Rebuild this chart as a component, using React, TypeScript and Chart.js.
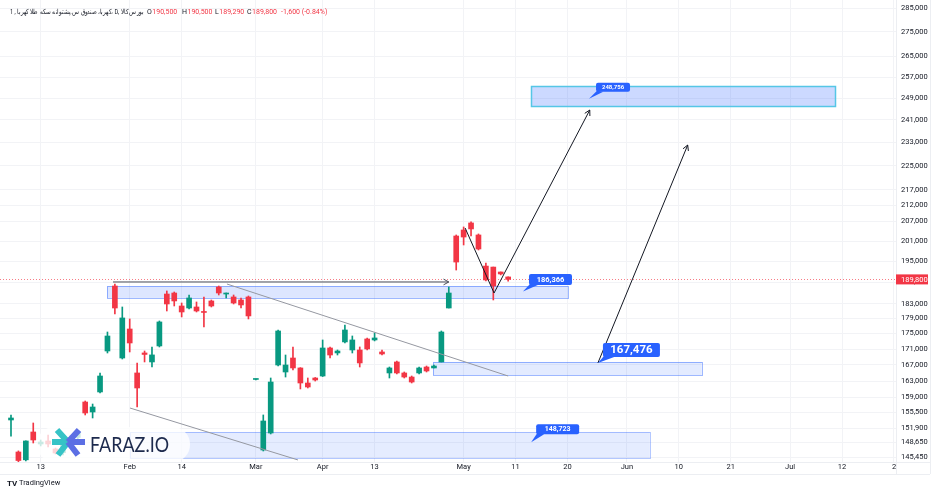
import React, { useEffect, useRef } from 'react';
import { Chart, registerables } from 'chart.js';

Chart.register(...registerables);

// ---- candle data (daily, index = bar number) ----
const opens = [153760, 146560, 144850, 151020, 148330, 149000, 147220, 146400, 148300, 149800,
  157960, 155610, 160350, 170500, 187930, 168720, 176210, 164980, 170000, 167720,
  171790, 185690, 185970, 182390, 181840, 182120, 180900, 183770, 187650, 185690,
  184870, 184040, 184870, 163380, 147000, 150790, 166960, 165220, 168720, 166220,
  162520, 163740, 164230, 171270, 170000, 172830, 170760, 170760, 173600, 173340,
  170250, 164980, 167720, 164980, 163980, 164980, 166460, 166220, 167720, 181840,
  202550, 204380, 206550, 202860, 193630, 193340, 191920, 190500];
const highs = [154900, 146800, 149050, 153070, 149220, 150340, 147440, 148600, 150200, 151200,
  158190, 157480, 164980, 175420, 188500, 182120, 178880, 167470, 170500, 171530,
  178340, 186540, 186250, 183210, 185420, 183490, 184870, 184040, 187930, 185970,
  185420, 184590, 185140, 163500, 154920, 163740, 175950, 169480, 171530, 166300,
  163740, 163860, 173340, 171530, 170760, 177270, 174380, 171530, 173860, 175160,
  170760, 166460, 167970, 165220, 164230, 166460, 166710, 166960, 175690, 187650,
  202860, 205310, 206860, 203170, 194510, 193340, 191920, 190500];
const lows = [150100, 144400, 144600, 148550, 147890, 147660, 146120, 145900, 147600, 149000,
  154920, 154220, 160100, 169990, 180220, 168470, 170250, 156780, 167720, 166460,
  171530, 181030, 182390, 179420, 181600, 180760, 176740, 182120, 185420, 184590,
  182940, 181840, 178880, 163250, 146780, 150570, 166710, 163980, 165720, 161070,
  161310, 163000, 164100, 168720, 169480, 172600, 169990, 166460, 170760, 173090,
  169480, 163740, 164730, 163740, 162520, 164730, 165220, 166220, 167720, 181840,
  192480, 199840, 202550, 198350, 189360, 184040, 191080, 189290];
const closes = [154220, 144700, 149000, 149220, 148770, 148330, 146340, 148300, 149800, 150900,
  155380, 156780, 164230, 174370, 181840, 179150, 172560, 161310, 169620, 169500,
  178080, 182940, 183770, 180760, 184590, 181030, 180630, 182390, 185970, 185970,
  183210, 182670, 179690, 163480, 153530, 162760, 175690, 166960, 166220, 162520,
  161550, 163250, 171270, 169480, 170500, 175950, 173340, 167470, 171020, 173860,
  169740, 166220, 164980, 163980, 162760, 166220, 165470, 166710, 175420, 185970,
  194800, 202240, 204700, 198650, 189640, 187930, 191350, 189800];

// ---- axes ----
const xTickIdx = [4, 16, 23, 33, 42, 49, 61, 68, 75, 83, 90, 97, 105, 112, 119];
const xTickLabels = ['13', 'Feb', '14', 'Mar', 'Apr', '13', 'May', '11', '20', 'Jun', '10', '21', 'Jul', '12', '2'];
const priceTicks = [285000, 275000, 265000, 257000, 249000, 241000, 233000, 225000, 217000, 212000,
  207000, 201000, 195000, 189000, 183000, 179000, 175000, 171000, 167000, 163000, 159000,
  155500, 151900, 148650, 145450];

const lastPrice = 189800;
// title pieces, in the order they appear from left to right
const titleParts = ['1 ,', 'کهربا، صندوق س.پشتوانه سکه طلا کهربا،', 'D,', 'بورس کالا'];
const ohlcKeys = ['O', 'H', 'L', 'C'];
const ohlcVals = ['190,500', '190,500', '189,290', '189,800'];
const changeText = '-1,600 (-0.84%)';

// ---- drawings (data units: bar index, price) ----
const zoneStart = [70.08, 12.94, 56.87, 16];
const zoneEnd = [111.05, 75.07, 93.1, 86.1];
const zoneTop = [253570, 187930, 167720, 151030];
const zoneBottom = [246100, 184600, 164480, 145230];
const zoneLevels = [248756, 186366, 167476, 148723];
const zoneLabels = ['248,756', '186,366', '167,476', '148,723'];
const zoneLabelIdx = [77.9, 69.0, 79.1, 70.1];

const levelArrowIdx = [13.75, 59.0];
const levelArrowPrice = [189070, 189070];
const trendUpperIdx = [29.1, 67.0];
const trendUpperPrice = [188500, 164230];
const trendLowerIdx = [16.04, 38.68];
const trendLowerPrice = [156540, 144820];
const vPathIdx = [61.2, 65.1, 78.0];
const vPathPrice = [204990, 185970, 244620];
const projIdx = [79.1, 91.2];
const projPrice = [167476, 232120];

// styles
const UP = '#089981';
const DOWN = '#f23645';
const FONT = 'Roboto, "Liberation Sans", Arial, sans-serif';
const zoneFill = ['rgba(41,98,255,0.24)', 'rgba(41,98,255,0.16)', 'rgba(41,98,255,0.13)', 'rgba(41,98,255,0.12)'];
const zoneStroke = ['#55c6e6', 'rgba(41,98,255,0.45)', 'rgba(41,98,255,0.45)', 'rgba(41,98,255,0.35)'];
// callout: dx, dy, w, h, fontSize
const calloutStyle = [
  [7, -16, 34, 9, 6],
  [6, -17.6, 43, 11, 7.5],
  [5, -20, 57, 14, 11.5],
  [5, -18, 43, 10, 7],
];

function arrowHead(ctx: CanvasRenderingContext2D, fx: number, fy: number, tx: number, ty: number, size: number) {
  const a = Math.atan2(ty - fy, tx - fx);
  ctx.beginPath();
  ctx.moveTo(tx - size * Math.cos(a - 0.5), ty - size * Math.sin(a - 0.5));
  ctx.lineTo(tx, ty);
  ctx.lineTo(tx - size * Math.cos(a + 0.5), ty - size * Math.sin(a + 0.5));
  ctx.stroke();
}

function poly(chart: any, idx: number[], price: number[], color: string, width: number, arrow: boolean) {
  const { ctx, scales } = chart;
  const pts = idx.map((v, i) => [scales.x.getPixelForValue(v), scales.y.getPixelForValue(price[i])]);
  ctx.save();
  ctx.strokeStyle = color;
  ctx.lineWidth = width;
  ctx.beginPath();
  pts.forEach((p, i) => (i === 0 ? ctx.moveTo(p[0], p[1]) : ctx.lineTo(p[0], p[1])));
  ctx.stroke();
  if (arrow) {
    const n = pts.length;
    arrowHead(ctx, pts[n - 2][0], pts[n - 2][1], pts[n - 1][0], pts[n - 1][1], 6);
  }
  ctx.restore();
}

function roundRect(ctx: CanvasRenderingContext2D, x: number, y: number, w: number, h: number, r: number) {
  ctx.beginPath();
  ctx.moveTo(x + r, y);
  ctx.lineTo(x + w - r, y);
  ctx.arcTo(x + w, y, x + w, y + r, r);
  ctx.lineTo(x + w, y + h - r);
  ctx.arcTo(x + w, y + h, x + w - r, y + h, r);
  ctx.lineTo(x + r, y + h);
  ctx.arcTo(x, y + h, x, y + h - r, r);
  ctx.lineTo(x, y + r);
  ctx.arcTo(x, y, x + r, y, r);
  ctx.closePath();
}

const overlay = {
  id: 'overlay',
  beforeDatasetsDraw(chart: any) {
    const { ctx, chartArea: a, scales } = chart;
    ctx.save();
    ctx.beginPath();
    ctx.rect(a.left, a.top, a.right - a.left, a.bottom - a.top);
    ctx.clip();
    for (let k = 0; k < zoneStart.length; k++) {
      const x0 = scales.x.getPixelForValue(zoneStart[k]);
      const x1 = scales.x.getPixelForValue(zoneEnd[k]);
      const y0 = scales.y.getPixelForValue(zoneTop[k]);
      const y1 = scales.y.getPixelForValue(zoneBottom[k]);
      ctx.fillStyle = zoneFill[k];
      ctx.fillRect(x0, y0, x1 - x0, y1 - y0);
      ctx.strokeStyle = zoneStroke[k];
      ctx.lineWidth = k === 0 ? 1.5 : 1;
      ctx.strokeRect(Math.round(x0) + 0.5, Math.round(y0) + 0.5, Math.round(x1 - x0), Math.round(y1 - y0));
    }
    // last price dotted line
    const py = Math.round(scales.y.getPixelForValue(lastPrice)) + 0.5;
    ctx.strokeStyle = 'rgba(242,54,69,0.65)';
    ctx.lineWidth = 1;
    ctx.setLineDash([1, 2]);
    ctx.beginPath();
    ctx.moveTo(a.left, py);
    ctx.lineTo(a.right, py);
    ctx.stroke();
    ctx.restore();
  },
  afterDatasetsDraw(chart: any) {
    const { ctx, chartArea: a, scales } = chart;
    ctx.save();
    ctx.beginPath();
    ctx.rect(a.left, a.top, a.right - a.left, a.bottom - a.top);
    ctx.clip();
    poly(chart, trendUpperIdx, trendUpperPrice, '#9598a1', 1, false);
    poly(chart, trendLowerIdx, trendLowerPrice, '#9598a1', 1, false);
    poly(chart, levelArrowIdx, levelArrowPrice, '#4a4d57', 1, true);
    poly(chart, vPathIdx, vPathPrice, '#131722', 1, true);
    poly(chart, projIdx, projPrice, '#131722', 1, true);

    // callouts
    for (let k = 0; k < zoneLevels.length; k++) {
      const tx = scales.x.getPixelForValue(zoneLabelIdx[k]);
      const ty = scales.y.getPixelForValue(zoneLevels[k]);
      const [dx, dy, w, h, fs] = calloutStyle[k];
      const bx = tx + dx;
      const by = ty + dy;
      ctx.fillStyle = '#2962ff';
      ctx.beginPath();
      ctx.moveTo(tx, ty);
      ctx.lineTo(bx + 1, by + h - 1);
      ctx.lineTo(bx + h * 0.8, by + h);
      ctx.closePath();
      ctx.fill();
      roundRect(ctx, bx, by, w, h, 2);
      ctx.fill();
      ctx.fillStyle = '#ffffff';
      ctx.font = `bold ${fs}px ${FONT}`;
      ctx.textAlign = 'center';
      ctx.textBaseline = 'middle';
      ctx.fillText(zoneLabels[k], bx + w / 2, by + h / 2 + 0.5);
    }

    // watermark logo
    ctx.fillStyle = 'rgba(255,255,255,0.78)';
    roundRect(ctx, 37, 427, 153, 35, 17);
    ctx.fill();
    ctx.lineWidth = 6;
    ctx.lineCap = 'butt';
    const cx = 68, cy = 442;
    ctx.strokeStyle = '#36c3c6';
    ctx.beginPath();
    ctx.moveTo(cx, cy); ctx.lineTo(57, 430);
    ctx.moveTo(cx, cy); ctx.lineTo(52, cy);
    ctx.moveTo(cx, cy); ctx.lineTo(58, 455);
    ctx.stroke();
    ctx.strokeStyle = '#5c6fe4';
    ctx.beginPath();
    ctx.moveTo(cx, cy); ctx.lineTo(79, 430);
    ctx.moveTo(cx, cy); ctx.lineTo(85, cy);
    ctx.moveTo(cx, cy); ctx.lineTo(78, 455);
    ctx.stroke();
    ctx.fillStyle = '#1d2a4d';
    ctx.font = `21px Lato, ${FONT}`;
    ctx.textAlign = 'left';
    ctx.textBaseline = 'alphabetic';
    ctx.fillText('FARAZ.IO', 90, 452, 79);
    ctx.restore();
  },
  afterDraw(chart: any) {
    const { ctx, chartArea: a, scales } = chart;
    ctx.save();
    // frame lines
    ctx.strokeStyle = '#eceef2';
    ctx.lineWidth = 1;
    ctx.beginPath();
    ctx.moveTo(a.right + 0.5, 0); ctx.lineTo(a.right + 0.5, 474);
    ctx.moveTo(0, a.bottom + 0.5); ctx.lineTo(930, a.bottom + 0.5);
    ctx.moveTo(930.5, 0); ctx.lineTo(930.5, 474);
    ctx.moveTo(0, 474.5); ctx.lineTo(930, 474.5);
    ctx.stroke();

    // header title (pieces laid out left to right, squeezed into its width)
    ctx.textBaseline = 'middle';
    ctx.textAlign = 'left';
    ctx.font = `7px ${FONT}`;
    ctx.fillStyle = '#131722';
    const gap = 2;
    const widths = titleParts.map((t) => ctx.measureText(t).width);
    const total = widths.reduce((s, w) => s + w, 0) + gap * (titleParts.length - 1);
    const sx = Math.min(1, 134 / total);
    ctx.save();
    ctx.translate(10, 12.5);
    ctx.scale(sx, 1);
    let px = 0;
    titleParts.forEach((t, i) => {
      ctx.fillText(t, px, 0);
      px += widths[i] + gap;
    });
    ctx.restore();

    const keyX = [147, 182, 215, 247];
    for (let i = 0; i < ohlcKeys.length; i++) {
      ctx.fillStyle = '#131722';
      ctx.fillText(ohlcKeys[i], keyX[i], 12.5);
      const kw = ctx.measureText(ohlcKeys[i]).width;
      ctx.fillStyle = DOWN;
      ctx.fillText(ohlcVals[i], keyX[i] + kw + 0.5, 12.5);
    }
    ctx.fillStyle = DOWN;
    ctx.fillText(changeText, 281, 12.5);

    // last price label on axis
    const py = scales.y.getPixelForValue(lastPrice);
    ctx.fillStyle = DOWN;
    ctx.fillRect(a.right, py - 5, 32, 10);
    ctx.fillStyle = '#ffffff';
    ctx.font = `7.5px ${FONT}`;
    ctx.fillText(lastPrice.toLocaleString('en-US'), a.right + 5, py + 0.5);

    // footer
    ctx.fillStyle = '#131722';
    ctx.font = `bold 8px ${FONT}`;
    ctx.fillText('TV', 7, 483.5);
    ctx.font = `7.5px ${FONT}`;
    ctx.fillText('TradingView', 19, 483.5);
    ctx.restore();
  },
};

export default function App() {
  const ref = useRef<HTMLCanvasElement>(null);
  useEffect(() => {
    const canvas = ref.current;
    if (!canvas) return;
    Chart.defaults.font.family = FONT;
    const colors = opens.map((o, i) => (closes[i] >= o ? UP : DOWN));
    const bodies = opens.map((o, i) => ({ x: i, y: [o, closes[i]] }));
    const wicks = opens.map((o, i) => ({ x: i, y: [lows[i], highs[i]] }));
    const chart = new Chart(canvas, {
      type: 'bar',
      data: {
        datasets: [
          {
            data: bodies as any,
            backgroundColor: colors,
            borderWidth: 0,
            barThickness: 5,
            minBarLength: 1,
            grouped: false,
          } as any,
          {
            data: wicks as any,
            backgroundColor: colors,
            borderWidth: 0,
            barThickness: 1,
            minBarLength: 1,
            grouped: false,
          } as any,
        ],
      },
      options: {
        animation: false,
        responsive: false,
        maintainAspectRatio: false,
        events: [],
        layout: { padding: 0 },
        plugins: { legend: { display: false }, tooltip: { enabled: false }, title: { display: false } },
        scales: {
          x: {
            type: 'linear',
            min: -1.482,
            max: 119.27,
            bounds: 'data',
            offset: false,
            position: 'bottom',
            grid: { color: '#f2f3f6', drawTicks: false, offset: false },
            border: { display: false },
            ticks: {
              autoSkip: false,
              maxRotation: 0,
              padding: 1,
              color: '#131722',
              font: { size: 7.5 },
              callback: (v: any) => {
                const k = xTickIdx.indexOf(Number(v));
                return k >= 0 ? xTickLabels[k] : '';
              },
            },
            afterBuildTicks: (s: any) => {
              s.ticks = xTickIdx.map((v) => ({ value: v }));
            },
            afterFit: (s: any) => {
              s.height = 30;
              s.paddingLeft = 0;
              s.paddingRight = 0;
            },
          } as any,
          y: {
            type: 'logarithmic',
            position: 'right',
            min: 144381,
            max: 288437,
            bounds: 'data',
            grid: { color: '#f2f3f6', drawTicks: false },
            border: { display: false },
            ticks: {
              autoSkip: false,
              padding: 5,
              color: '#131722',
              font: { size: 7.5 },
              callback: (v: any) => Number(v).toLocaleString('en-US'),
            },
            afterBuildTicks: (s: any) => {
              s.ticks = priceTicks.map((v) => ({ value: v }));
            },
            afterFit: (s: any) => {
              s.width = 40;
              s.paddingTop = 0;
              s.paddingBottom = 0;
            },
          } as any,
        },
      },
      plugins: [overlay],
    });
    return () => chart.destroy();
  }, []);
  return (
    <div style={{ position: 'fixed', left: 0, top: 0, width: 936, height: 492, background: '#ffffff' }}>
      <canvas ref={ref} width={936} height={492} style={{ display: 'block', width: 936, height: 492 }} />
    </div>
  );
}
